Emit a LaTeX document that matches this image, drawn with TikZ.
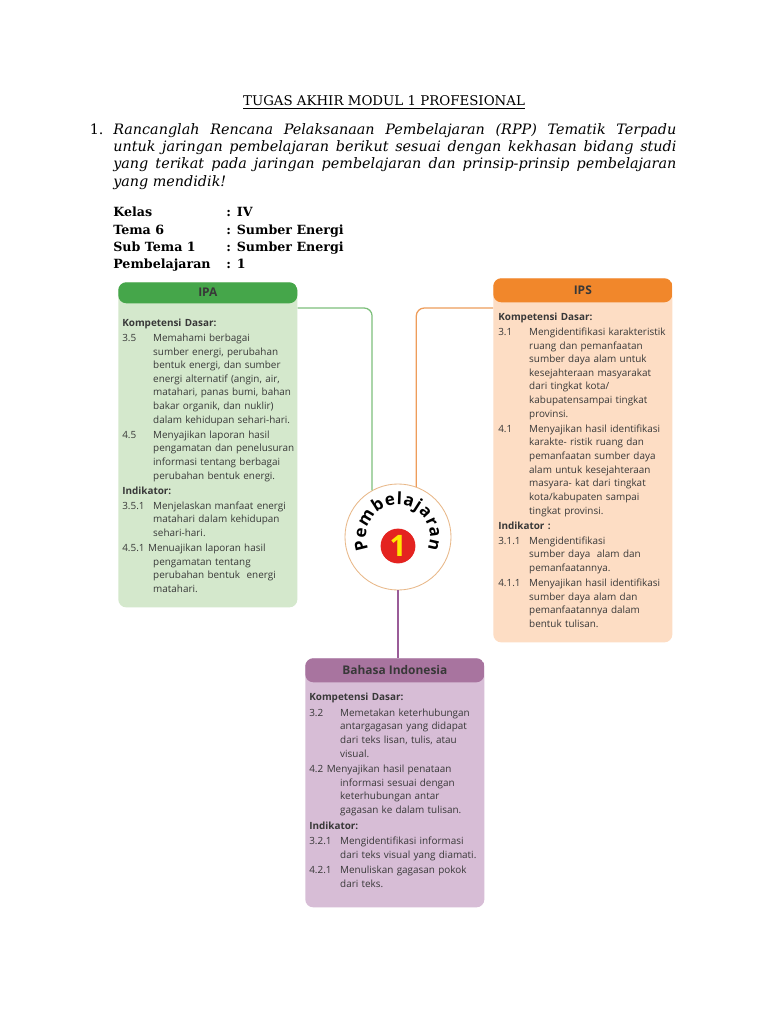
\documentclass[tikz,border=0pt]{standalone}
\usepackage{fontspec}
\setmainfont{DejaVu Serif}
\newfontfamily\boxfont{Open Sans}
\usetikzlibrary{positioning,calc,decorations.text}
\definecolor{ipahd}{HTML}{45A64A}
\definecolor{ipabg}{HTML}{D4E8CC}
\definecolor{ipaln}{HTML}{7DBF7B}
\definecolor{ipshd}{HTML}{F1872B}
\definecolor{ipsbg}{HTML}{FDDDC4}
\definecolor{ipsln}{HTML}{EE9D5B}
\definecolor{bindhd}{HTML}{A8749F}
\definecolor{bindbg}{HTML}{D7BDD6}
\definecolor{bindln}{HTML}{9A5C98}
\definecolor{ringln}{HTML}{E8B888}
\definecolor{redcore}{HTML}{E42320}
\definecolor{onecol}{HTML}{FFE600}
\definecolor{inkgray}{HTML}{383838}
\newlength\kdind
\setlength\kdind{22pt}
\newcommand\kdpt[2]{\par\hangindent=\kdind\hangafter=1\noindent\makebox[\kdind][l]{#1}#2\par}
\newcommand\kdtight[2]{\par\hangindent=\kdind\hangafter=1\noindent#1\hspace{2.5pt}#2\par}
\newcommand\kdsec[1]{\par\noindent{\bfseries #1}\par}

\begin{document}
\begin{tikzpicture}[x=0.025cm,y=-0.025cm,
  mapbox/.style={rounded corners=0.2cm,minimum width=4.475cm,anchor=north west,inner sep=0pt},
  headfill/.style 2 args={path picture={\fill[#1] (path picture bounding box.north west)
    rectangle ([yshift=-#2]path picture bounding box.north east);}},
  headtxt/.style={inner sep=0pt,text=inkgray,font=\boxfont\bfseries\fontsize{8.5}{10}\selectfont},
  kdtext/.style={anchor=north west,inner sep=0pt,text width=4.45cm,align=left,text=inkgray,
    font=\boxfont\fontsize{7.05}{9.7}\selectfont},
  link/.style={line width=0.9pt,rounded corners=0.2cm}]
  \fill[white] (0,0) rectangle (768,1024);
  \useasboundingbox (0,0) rectangle (768,1024);

  % heading and task
  \node[anchor=base,inner sep=0pt,font=\fontsize{9.5}{12}\selectfont] (title) at (384,106)
    {\underline{TUGAS AKHIR MODUL 1 PROFESIONAL}};
  \node[anchor=north west,inner sep=0pt,text width=14.075cm,align=justify,
    font=\itshape\fontsize{10.2}{12.3}\selectfont] (task) at (113,123)
    {\llap{\upshape 1.\hspace{7pt}}Rancanglah Rencana Pelaksanaan Pembelajaran (RPP) Tematik Terpadu\linebreak
     untuk jaringan pembelajaran berikut sesuai dengan kekhasan bidang studi\linebreak
     yang terikat pada jaringan pembelajaran dan prinsip-prinsip pembelajaran\linebreak
     yang mendidik!};
  \node[anchor=base west,inner sep=0pt,font=\bfseries\fontsize{9}{12.1}\selectfont] (info)
    at (113,217) {\begin{tabular}[t]{@{}p{2.825cm}@{}l@{}}
      Kelas & : IV\\
      Tema 6 & : Sumber Energi\\
      Sub Tema 1 & : Sumber Energi\\
      Pembelajaran & : 1
    \end{tabular}};

  % subject boxes
  \node[mapbox,fill=ipabg,minimum height=8.125cm,headfill={ipahd}{0.525cm}] (ipa) at (118,282) {};
  \node[headtxt] (ipahead) at ($(ipa.north)+(0,10.5)$) {IPA};
  \node[kdtext] (ipatext) at (122,311) {\setlength\parskip{1pt}%
    \kdsec{Kompetensi Dasar:}
    \kdpt{3.5}{Memahami berbagai\newline sumber energi, perubahan\newline bentuk energi, dan sumber\newline
      energi alternatif (angin, air,\newline matahari, panas bumi, bahan\newline
      bakar organik, dan nuklir)\newline dalam kehidupan sehari-hari.}
    \kdpt{4.5}{Menyajikan laporan hasil\newline pengamatan dan penelusuran\newline
      informasi tentang berbagai\newline perubahan bentuk energi.}
    \kdsec{Indikator:}
    \kdpt{3.5.1}{Menjelaskan manfaat energi\newline matahari dalam kehidupan\newline sehari-hari.}
    \kdtight{4.5.1}{Menuajikan laporan hasil\newline pengamatan tentang\newline
      perubahan bentuk~ energi\newline matahari.}};

  \node[mapbox,fill=ipsbg,minimum height=9.1cm,headfill={ipshd}{0.6cm}] (ips) at (493,278) {};
  \node[headtxt] (ipshead) at ($(ips.north)+(0,12)$) {IPS};
  \node[kdtext] (ipstext) at (498,305) {\setlength\parskip{1pt}%
    \kdsec{Kompetensi Dasar:}
    \kdpt{3.1}{Mengidentifikasi karakteristik\newline ruang dan pemanfaatan\newline
      sumber daya alam untuk\newline kesejahteraan masyarakat\newline dari tingkat kota/\newline
      kabupatensampai tingkat\newline provinsi.}
    \kdpt{4.1}{Menyajikan hasil identifikasi\newline karakte- ristik ruang dan\newline
      pemanfaatan sumber daya\newline alam untuk kesejahteraan\newline
      masyara- kat dari tingkat\newline kota/kabupaten sampai\newline tingkat provinsi.}
    \kdsec{Indikator :}
    \kdpt{3.1.1}{Mengidentifikasi\newline sumber daya~ alam dan\newline pemanfaatannya.}
    \kdpt{4.1.1}{Menyajikan hasil identifikasi\newline sumber daya alam dan\newline
      pemanfaatannya dalam\newline bentuk tulisan.}};

  \node[mapbox,fill=bindbg,minimum height=6.225cm,headfill={bindhd}{0.6cm}] (bind) at (305,658) {};
  \node[headtxt] (bindhead) at ($(bind.north)+(0,12)$) {Bahasa Indonesia};
  \node[kdtext] (bindtext) at (309,685) {\setlength\parskip{1.3pt}%
    \kdsec{Kompetensi Dasar:}
    \kdpt{3.2}{Memetakan keterhubungan\newline antargagasan yang didapat\newline
      dari teks lisan, tulis, atau\newline visual.}
    \kdtight{4.2}{Menyajikan hasil penataan\newline informasi sesuai dengan\newline
      keterhubungan antar\newline gagasan ke dalam tulisan.}
    \kdsec{Indikator:}
    \kdpt{3.2.1}{Mengidentifikasi informasi\newline dari teks visual yang diamati.}
    \kdpt{4.2.1}{Menuliskan gagasan pokok\newline dari teks.}};

  % centre badge
  \node[circle,draw=ringln,line width=0.6pt,fill=white,minimum size=2.65cm,inner sep=0pt] (ring)
    at (398,537) {};
  \draw[link,ipaln] ($(ipa.north east)+(0,26)$) -| (ring.119);
  \draw[link,ipsln] ($(ips.north west)+(0,30)$) -| (ring.70);
  \draw[link,bindln] (ring.south) -- (ring.south |- bind.north);
  \node[circle,fill=redcore,minimum size=0.87cm,inner sep=0pt,text=onecol,
    font=\boxfont\bfseries\fontsize{21}{21}\selectfont] (core) at (398,546) {1};
  \begin{scope}[shift={(398,537)},y=0.025cm]
    \path[decorate,decoration={text along path,text align={fit to path},
      text={|\boxfont\bfseries\fontsize{12}{12}\selectfont|Pembelajaran}}]
      (203:32) arc[start angle=203,end angle=-23,radius=32];
  \end{scope}
\end{tikzpicture}
\end{document}
